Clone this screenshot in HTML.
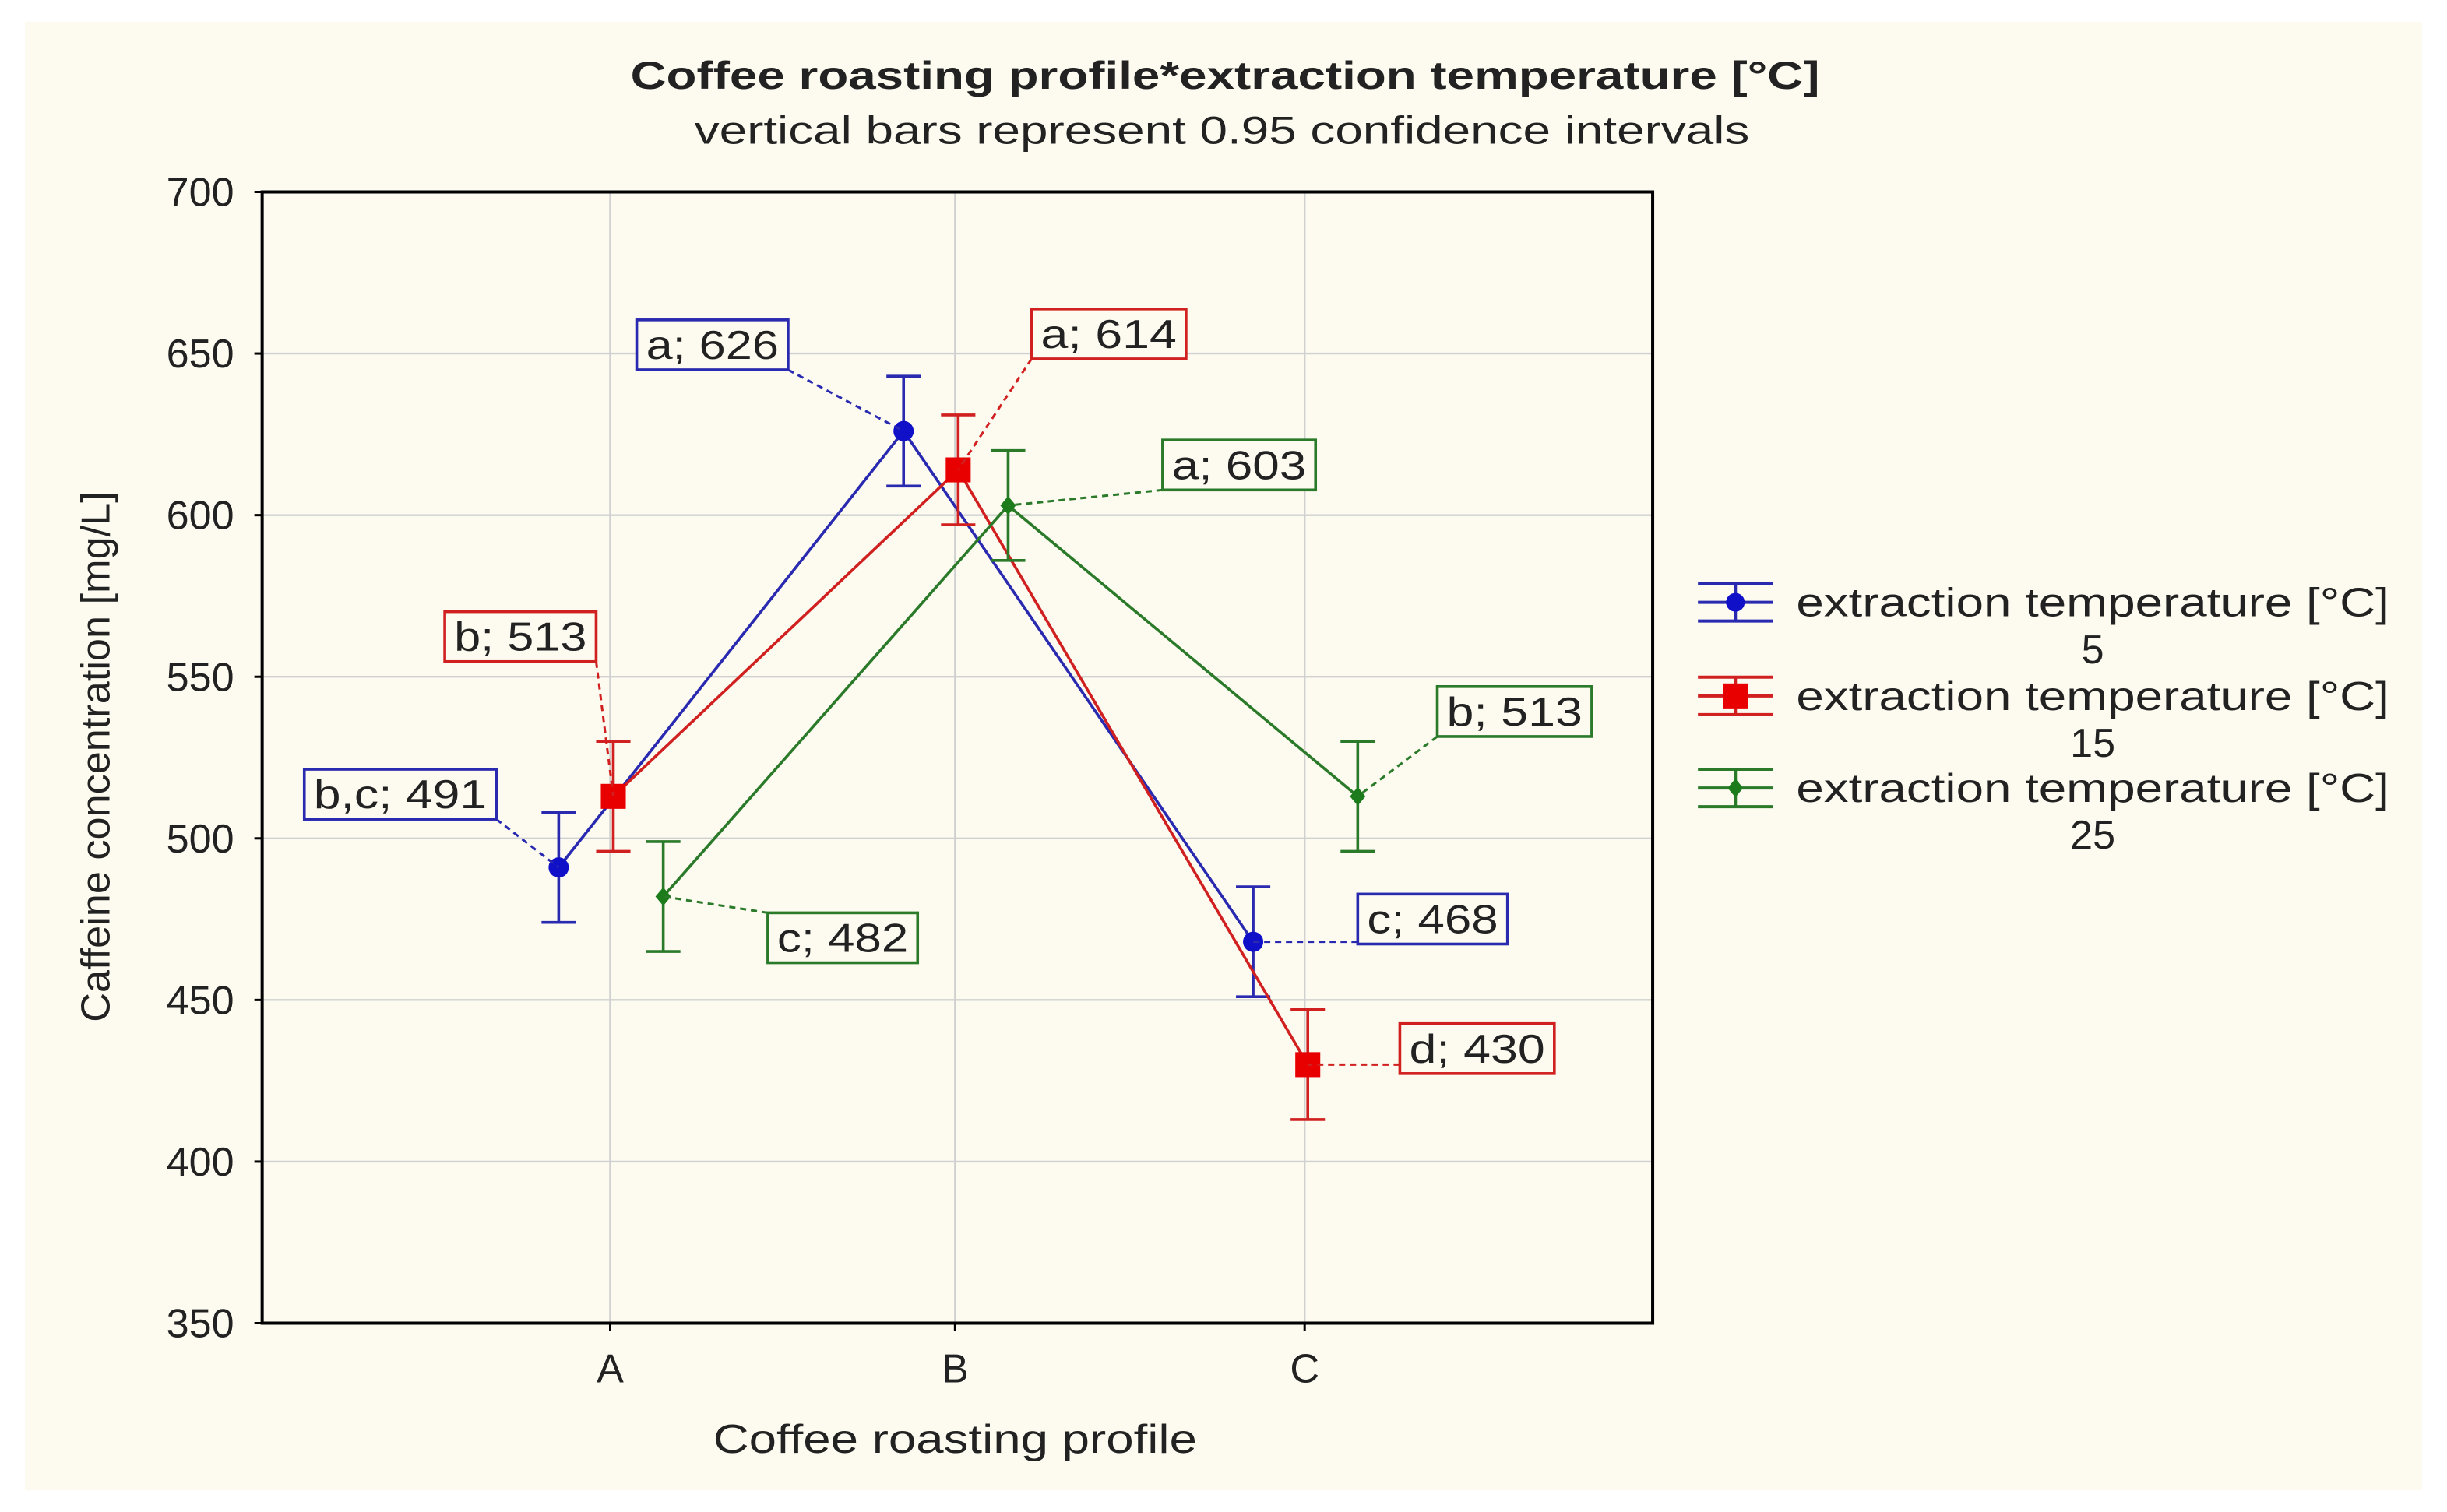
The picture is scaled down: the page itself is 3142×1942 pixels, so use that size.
<!DOCTYPE html>
<html><head><meta charset="utf-8"><style>
html,body{margin:0;padding:0;background:#fff}
svg{display:block}
text{font-family:"Liberation Sans",Arial,sans-serif}
</style></head><body>
<svg id="chart" width="3142" height="1942" viewBox="0 0 1568 969" preserveAspectRatio="none" xmlns="http://www.w3.org/2000/svg">
<rect x="0" y="0" width="1568" height="969" fill="#ffffff"/>
<rect x="16" y="14" width="1536" height="941" fill="#fdfbf0"/>
<text x="785" y="57" text-anchor="middle" font-size="25" font-weight="bold" fill="#222" textLength="762" lengthAdjust="spacingAndGlyphs">Coffee roasting profile*extraction temperature [°C]</text>
<text x="783" y="92" text-anchor="middle" font-size="25" fill="#222" textLength="676" lengthAdjust="spacingAndGlyphs">vertical bars represent 0.95 confidence intervals</text>
<g id="grid"></g>
<g id="axes"></g>
<g id="series"></g>
<g id="labels"></g>
<g id="legend"></g>
<text x="612" y="931" text-anchor="middle" font-size="26" fill="#222" textLength="310" lengthAdjust="spacingAndGlyphs">Coffee roasting profile</text>
<text transform="translate(70,485) rotate(-90)" text-anchor="middle" font-size="26" fill="#222" textLength="340" lengthAdjust="spacingAndGlyphs">Caffeine concentration [mg/L]</text>
</svg>
<script>
const categories = ["A","B","C"];
const yTicks = [350,400,450,500,550,600,650,700];
const seriesNames = ["5","15","25"];
const blueValues = [491,626,468];
const redValues = [513,614,430];
const greenValues = [482,603,513];
const blueCI = [17,17,17];
const redCI = [17,17,17];
const greenCI = [17,17,17];
const blueLabels = ["b,c; 491","a; 626","c; 468"];
const redLabels = ["b; 513","a; 614","d; 430"];
const greenLabels = ["c; 482","a; 603","b; 513"];

const NS="http://www.w3.org/2000/svg";
const L=168,R=1059,T=123,B=848;
const yMin=350,yMax=700;
function yS(v){return B-(v-yMin)/(yMax-yMin)*(B-T);}
const catX=[391,612,836];
function xS(i,off){return catX[i]+off;}
function mk(tag,attrs,parent){const e=document.createElementNS(NS,tag);for(const k in attrs)e.setAttribute(k,attrs[k]);parent.appendChild(e);return e;}
const grid=document.getElementById('grid'),axes=document.getElementById('axes'),ser=document.getElementById('series'),lab=document.getElementById('labels'),leg=document.getElementById('legend');

yTicks.forEach(t=>{
  const y=yS(t);
  if(t>yMin&&t<yMax){const g=mk('line',{x1:L,x2:R,y1:y,y2:y,stroke:'#d0d0d0','stroke-width':1.2},grid);
  
  }
  const tk=mk('line',{x1:L-5,x2:L,y1:y,y2:y,stroke:'#000','stroke-width':1.5},axes);
  
  
  const tx=mk('text',{x:150,y:y+9,'text-anchor':'end','font-size':26,fill:'#222'},axes);
  tx.textContent=t;
  
  
});
categories.forEach((c,i)=>{
  const x=catX[i];
  const g=mk('line',{x1:x,x2:x,y1:T,y2:B,stroke:'#d0d0d0','stroke-width':1.2},grid);
  
  
  const tk=mk('line',{x1:x,x2:x,y1:B,y2:B+5,stroke:'#000','stroke-width':1.5},axes);
  
  
  const tx=mk('text',{x:x,y:886,'text-anchor':'middle','font-size':26,fill:'#222'},axes);
  tx.textContent=c;
  
  
});
const frame=mk('rect',{x:L,y:T,width:R-L,height:B-T,fill:'none',stroke:'#000','stroke-width':2},axes);



const series=[
 {name:'blue',vals:blueValues,ci:blueCI,labels:blueLabels,color:'#1010c8',line:'#2a2ab0',off:-33,marker:'circle',
  boxes:[[195,493,123],[408,205,97],[870,573,96]]},
 {name:'red',vals:redValues,ci:redCI,labels:redLabels,color:'#e80000',line:'#d02020',off:2,marker:'square',
  boxes:[[285,392,97],[661,198,99],[897,656,99]]},
 {name:'green',vals:greenValues,ci:greenCI,labels:greenLabels,color:'#1c7c1c',line:'#2a7a2a',off:34,marker:'diamond',
  boxes:[[492,585,96],[745,282,98],[921,440,99]]}
];
series.forEach(s=>{
  const pts=s.vals.map((v,i)=>[xS(i,s.off),yS(v)]);
  const pl=mk('polyline',{points:pts.map(p=>p.join(',')).join(' '),fill:'none',stroke:s.line,'stroke-width':1.8},ser);
  
  
  s.vals.forEach((v,i)=>{
    const x=pts[i][0],y=pts[i][1],hi=yS(v+s.ci[i]),lo=yS(v-s.ci[i]);
    const eb=mk('path',{d:`M${x},${hi}V${lo}M${x-11},${hi}H${x+11}M${x-11},${lo}H${x+11}`,stroke:s.line,'stroke-width':1.8,fill:'none'},ser);
    
    
    let m;
    if(s.marker==='circle')m=mk('circle',{cx:x,cy:y,r:6.5,fill:s.color},ser);
    else if(s.marker==='square')m=mk('rect',{x:x-8,y:y-8,width:16,height:16,fill:s.color},ser);
    else m=mk('path',{d:`M${x},${y-6}L${x+5},${y}L${x},${y+6}L${x-5},${y}Z`,fill:s.color},ser);
    
    
    const b=s.boxes[i],bx=b[0],by=b[1],bw=b[2],bh=32;
    // leader from nearest box edge to point
    const cx=Math.max(bx,Math.min(bx+bw,x)),cy=Math.max(by,Math.min(by+bh,y));
    const ld=mk('line',{x1:cx,y1:cy,x2:x,y2:y,stroke:s.line,'stroke-width':1.5,'stroke-dasharray':'4,3'},lab);
    
    
    const rb=mk('rect',{x:bx,y:by,width:bw,height:bh,fill:'#fdfbf0',stroke:s.line,'stroke-width':1.8},lab);
    
    
    const t=mk('text',{x:bx+bw/2,y:by+25,'text-anchor':'middle','font-size':26,fill:'#222',textLength:bw-12,lengthAdjust:'spacingAndGlyphs'},lab);
    t.textContent=s.labels[i];
    
    
  });
});
const legY=[386,446,505];
series.forEach((s,k)=>{
  const y=legY[k];
  const g=mk('g',{},leg);
  
  
  mk('path',{d:`M1088,${y-12}H1136M1088,${y}H1136M1088,${y+12}H1136M1112,${y-12}V${y+12}`,stroke:s.line,'stroke-width':2,fill:'none'},g);
  if(s.marker==='circle')mk('circle',{cx:1112,cy:y,r:6,fill:s.color},g);
  else if(s.marker==='square')mk('rect',{x:1104,y:y-8,width:16,height:16,fill:s.color},g);
  else mk('path',{d:`M1112,${y-6}L1117,${y}L1112,${y+6}L1107,${y}Z`,fill:s.color},g);
  const t1=mk('text',{x:1151,y:y+9,'font-size':26,fill:'#222',textLength:380,lengthAdjust:'spacingAndGlyphs'},g);
  t1.textContent='extraction temperature [°C]';
  const t2=mk('text',{x:1341,y:y+39,'text-anchor':'middle','font-size':26,fill:'#222'},g);
  t2.textContent=seriesNames[k];
});
</script>
</body></html>
